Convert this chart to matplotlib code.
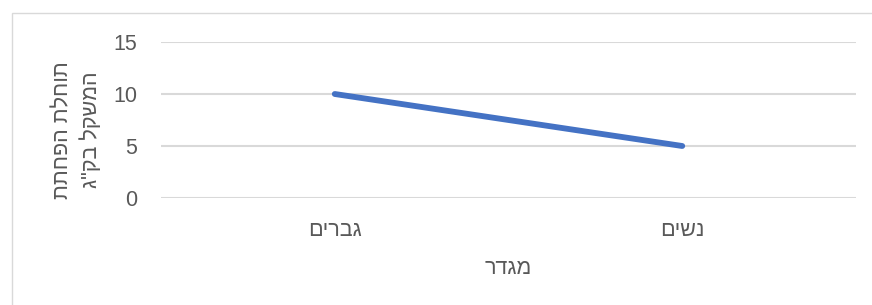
import matplotlib
matplotlib.use("Agg")
import matplotlib.pyplot as plt
from matplotlib.patches import Rectangle

# data
categories = ["גברים", "נשים"]
values = [10, 5]
y_ticks = [0, 5, 10, 15]
x_title = "מגדר"
y_title = ["תוחלת הפחתת", 'המשקל בק"ג']


def rtl(s):
  # matplotlib has no bidi support, so hand it the visual order
  return s[::-1]


plt.rcParams['font.family'] = ['Liberation Sans', 'DejaVu Sans']
W, H = 872, 305
fig = plt.figure(figsize=(W / 100, H / 100), dpi=100)
fig.patch.set_facecolor("white")

ax = fig.add_axes([161 / W, 1 - 198 / H, (856 - 161) / W, (198 - 42) / H])
x = list(range(len(categories)))
ax.plot(x, values, color="#4472C4", lw=4.2, solid_capstyle="round", zorder=3)

ax.set_xlim(-0.5, len(categories) - 0.5)
ax.set_ylim(0, 15)
ax.set_yticks(y_ticks)
ax.set_xticks(x)
ax.set_xticklabels([rtl(c) for c in categories])
ax.grid(axis="y", color="#D9D9D9", lw=1.5)
ax.set_axisbelow(True)
for s in ax.spines.values():
  s.set_visible(False)
ax.tick_params(axis="both", length=0, labelsize=15.5, labelcolor="#595959")
ax.tick_params(axis="y", pad=17)
ax.tick_params(axis="x", pad=16)
ax.yaxis.set_major_formatter(matplotlib.ticker.FormatStrFormatter("%d"))

fig.text((161 + 856) / 2 / W, 1 - 269 / H, rtl(x_title), ha="center", va="center",
         fontsize=15.5, color="#595959")
fig.text(77 / W, 1 - 130 / H, "\n".join(rtl(t) for t in y_title), rotation=90,
         ha="center", va="center", multialignment="center", fontsize=15.5,
         color="#595959", linespacing=1.45)

# chart-area border like the Excel frame
fig.patches.append(Rectangle((12 / W, -0.1), 1.1, 1 - 13 / H + 0.1, transform=fig.transFigure,
                             fill=False, edgecolor="#D9D9D9", lw=1))

fig.savefig("out.png", dpi=100)
